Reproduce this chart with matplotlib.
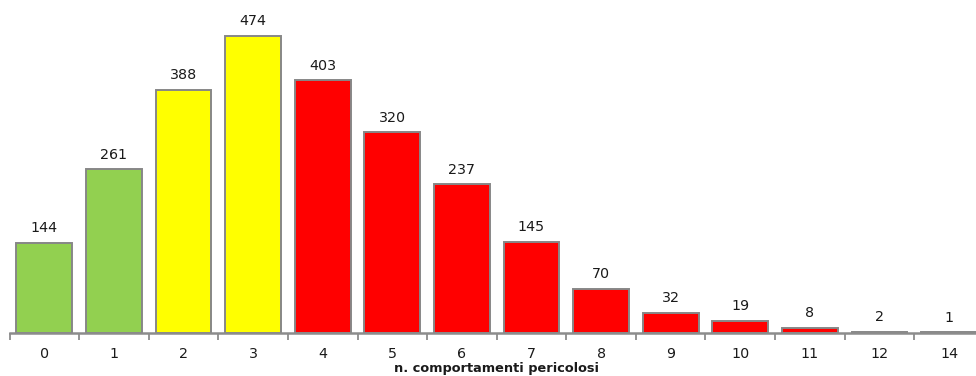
import matplotlib
matplotlib.use("Agg")
import matplotlib.pyplot as plt

categories = ["0", "1", "2", "3", "4", "5", "6", "7", "8", "9", "10", "11", "12", "14"]
counts = [144, 261, 388, 474, 403, 320, 237, 145, 70, 32, 19, 8, 2, 1]
colors = ["#92D050"] * 2 + ["#FFFF00"] * 2 + ["#FF0000"] * 10

fig = plt.figure(figsize=(9.76, 3.76), dpi=100)
ax = fig.add_axes([9.5 / 976, 43 / 376, 974.4 / 976, 333 / 376])

x = list(range(len(categories)))
ax.bar(x, counts, width=0.8, color=colors, edgecolor="#878787", linewidth=1.4, zorder=2)

for xi, v in zip(x, counts):
    ax.annotate(str(v), (xi, v), xytext=(0, 5.5), textcoords="offset points",
                ha="center", va="bottom", fontsize=10.3, color="#1a1a1a",
                family="DejaVu Sans")

ax.set_xlim(-0.5, len(categories) - 0.5)
ax.set_ylim(0, 531.4)

for s in ["top", "right", "left"]:
    ax.spines[s].set_visible(False)
ax.spines["bottom"].set_color("#8c8c8c")
ax.spines["bottom"].set_linewidth(1.8)
ax.spines["bottom"].set_zorder(3)

ax.set_yticks([])
ax.set_xticks([i - 0.5 for i in range(len(categories) + 1)], minor=False)
ax.set_xticklabels([])
ax.tick_params(axis="x", which="major", length=5, width=1.3, color="#8c8c8c", direction="out")
ax.set_xticks(x, minor=True)
ax.set_xticklabels(categories, minor=True, fontsize=10.3, color="#1a1a1a", family="DejaVu Sans")
ax.tick_params(axis="x", which="minor", length=0, pad=10)

# axis title placed just under the tick labels, kept inside the canvas
fig.text(496 / 976, 1 / 376, "n. comportamenti pericolosi", fontsize=9.3,
         fontweight="bold", family="DejaVu Sans", color="#1a1a1a",
         ha="center", va="bottom")

fig.savefig("out.png", dpi=100)
